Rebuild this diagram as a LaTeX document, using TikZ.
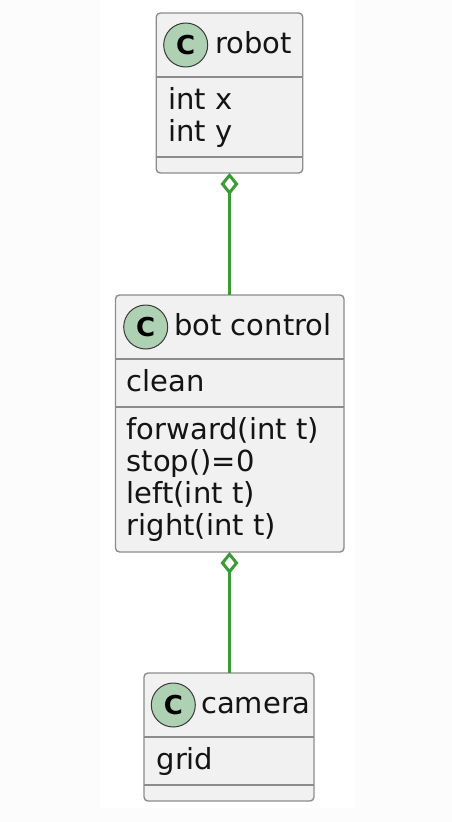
\documentclass[tikz,border=0pt]{standalone}
\usepackage{fontspec}
\setmainfont{DejaVu Sans}
\newfontfamily\badgefont{DejaVu Sans}[BoldFont={DejaVu Sans Bold}]
\usetikzlibrary{arrows.meta}
\definecolor{boxfill}{HTML}{F1F1F1}
\definecolor{boxline}{HTML}{8C8C8C}
\definecolor{badgefill}{HTML}{ADD1B2}
\definecolor{badgeline}{HTML}{3A3A3A}
\definecolor{assocgreen}{HTML}{3D9A36}
\definecolor{sidebg}{HTML}{FCFCFC}
\tikzset{
  classbox/.style={draw=boxline, fill=boxfill, line width=1.4pt, rounded corners=4pt,
    inner sep=0pt, outer sep=0pt},
  sepline/.style={draw=boxline, line width=1.4pt},
  badge/.style={circle, draw=badgeline, fill=badgefill, line width=1pt, minimum size=44pt,
    inner sep=0pt, font=\badgefont\bfseries\fontsize{26}{26}\selectfont},
  lbl/.style={anchor=base west, inner sep=0pt, font=\fontsize{29}{32}\selectfont, text=black!92},
  assoc/.style={draw=assocgreen, line width=3.2pt,
    {Diamond[open, length=22pt, width=18pt, line width=3pt]}-},
}
\begin{document}
\begin{tikzpicture}[x=1pt, y=-1pt]
\useasboundingbox (0,0) rectangle (452,822);
\fill[sidebg] (0,0) rectangle (452,822);
\fill[white] (100,0) rectangle (355,808);

% robot
\node[classbox, minimum width=146.5pt, minimum height=160pt] (robot) at (229.5,93) {};
\draw[sepline] (robot.west |- 0,77) -- (robot.east |- 0,77);
\draw[sepline] (robot.west |- 0,157) -- (robot.east |- 0,157);
\node[badge] (robotc) at (185.7,45) {C};
\node[lbl] (robotname) at (215,53) {robot};
\node[lbl] (robotx) at (168,109) {int x};
\node[lbl] (roboty) at (168,141) {int y};

% bot control
\node[classbox, minimum width=228.5pt, minimum height=257pt] (bot) at (229.75,423.5) {};
\draw[sepline] (bot.west |- 0,359) -- (bot.east |- 0,359);
\draw[sepline] (bot.west |- 0,407) -- (bot.east |- 0,407);
\node[badge] (botc) at (145.7,327) {C};
\node[lbl] (botname) at (174,335) {bot control};
\node[lbl] (botclean) at (126.5,391) {clean};
\node[lbl] (botfwd) at (126.5,439) {forward(int t)};
\node[lbl] (botstop) at (126.5,471) {stop()=0};
\node[lbl] (botleft) at (126.5,503) {left(int t)};
\node[lbl] (botright) at (126.5,535) {right(int t)};

% camera
\node[classbox, minimum width=170pt, minimum height=128pt] (camera) at (229,737) {};
\draw[sepline] (camera.west |- 0,737) -- (camera.east |- 0,737);
\draw[sepline] (camera.west |- 0,785) -- (camera.east |- 0,785);
\node[badge] (camc) at (173.3,705) {C};
\node[lbl] (camname) at (201,713) {camera};
\node[lbl] (camgrid) at (156.4,769) {grid};

% connectors
\draw[assoc] (robot.south) -- (robot.south |- bot.north);
\draw[assoc] (robot.south |- bot.south) -- (robot.south |- camera.north);
\end{tikzpicture}
\end{document}
